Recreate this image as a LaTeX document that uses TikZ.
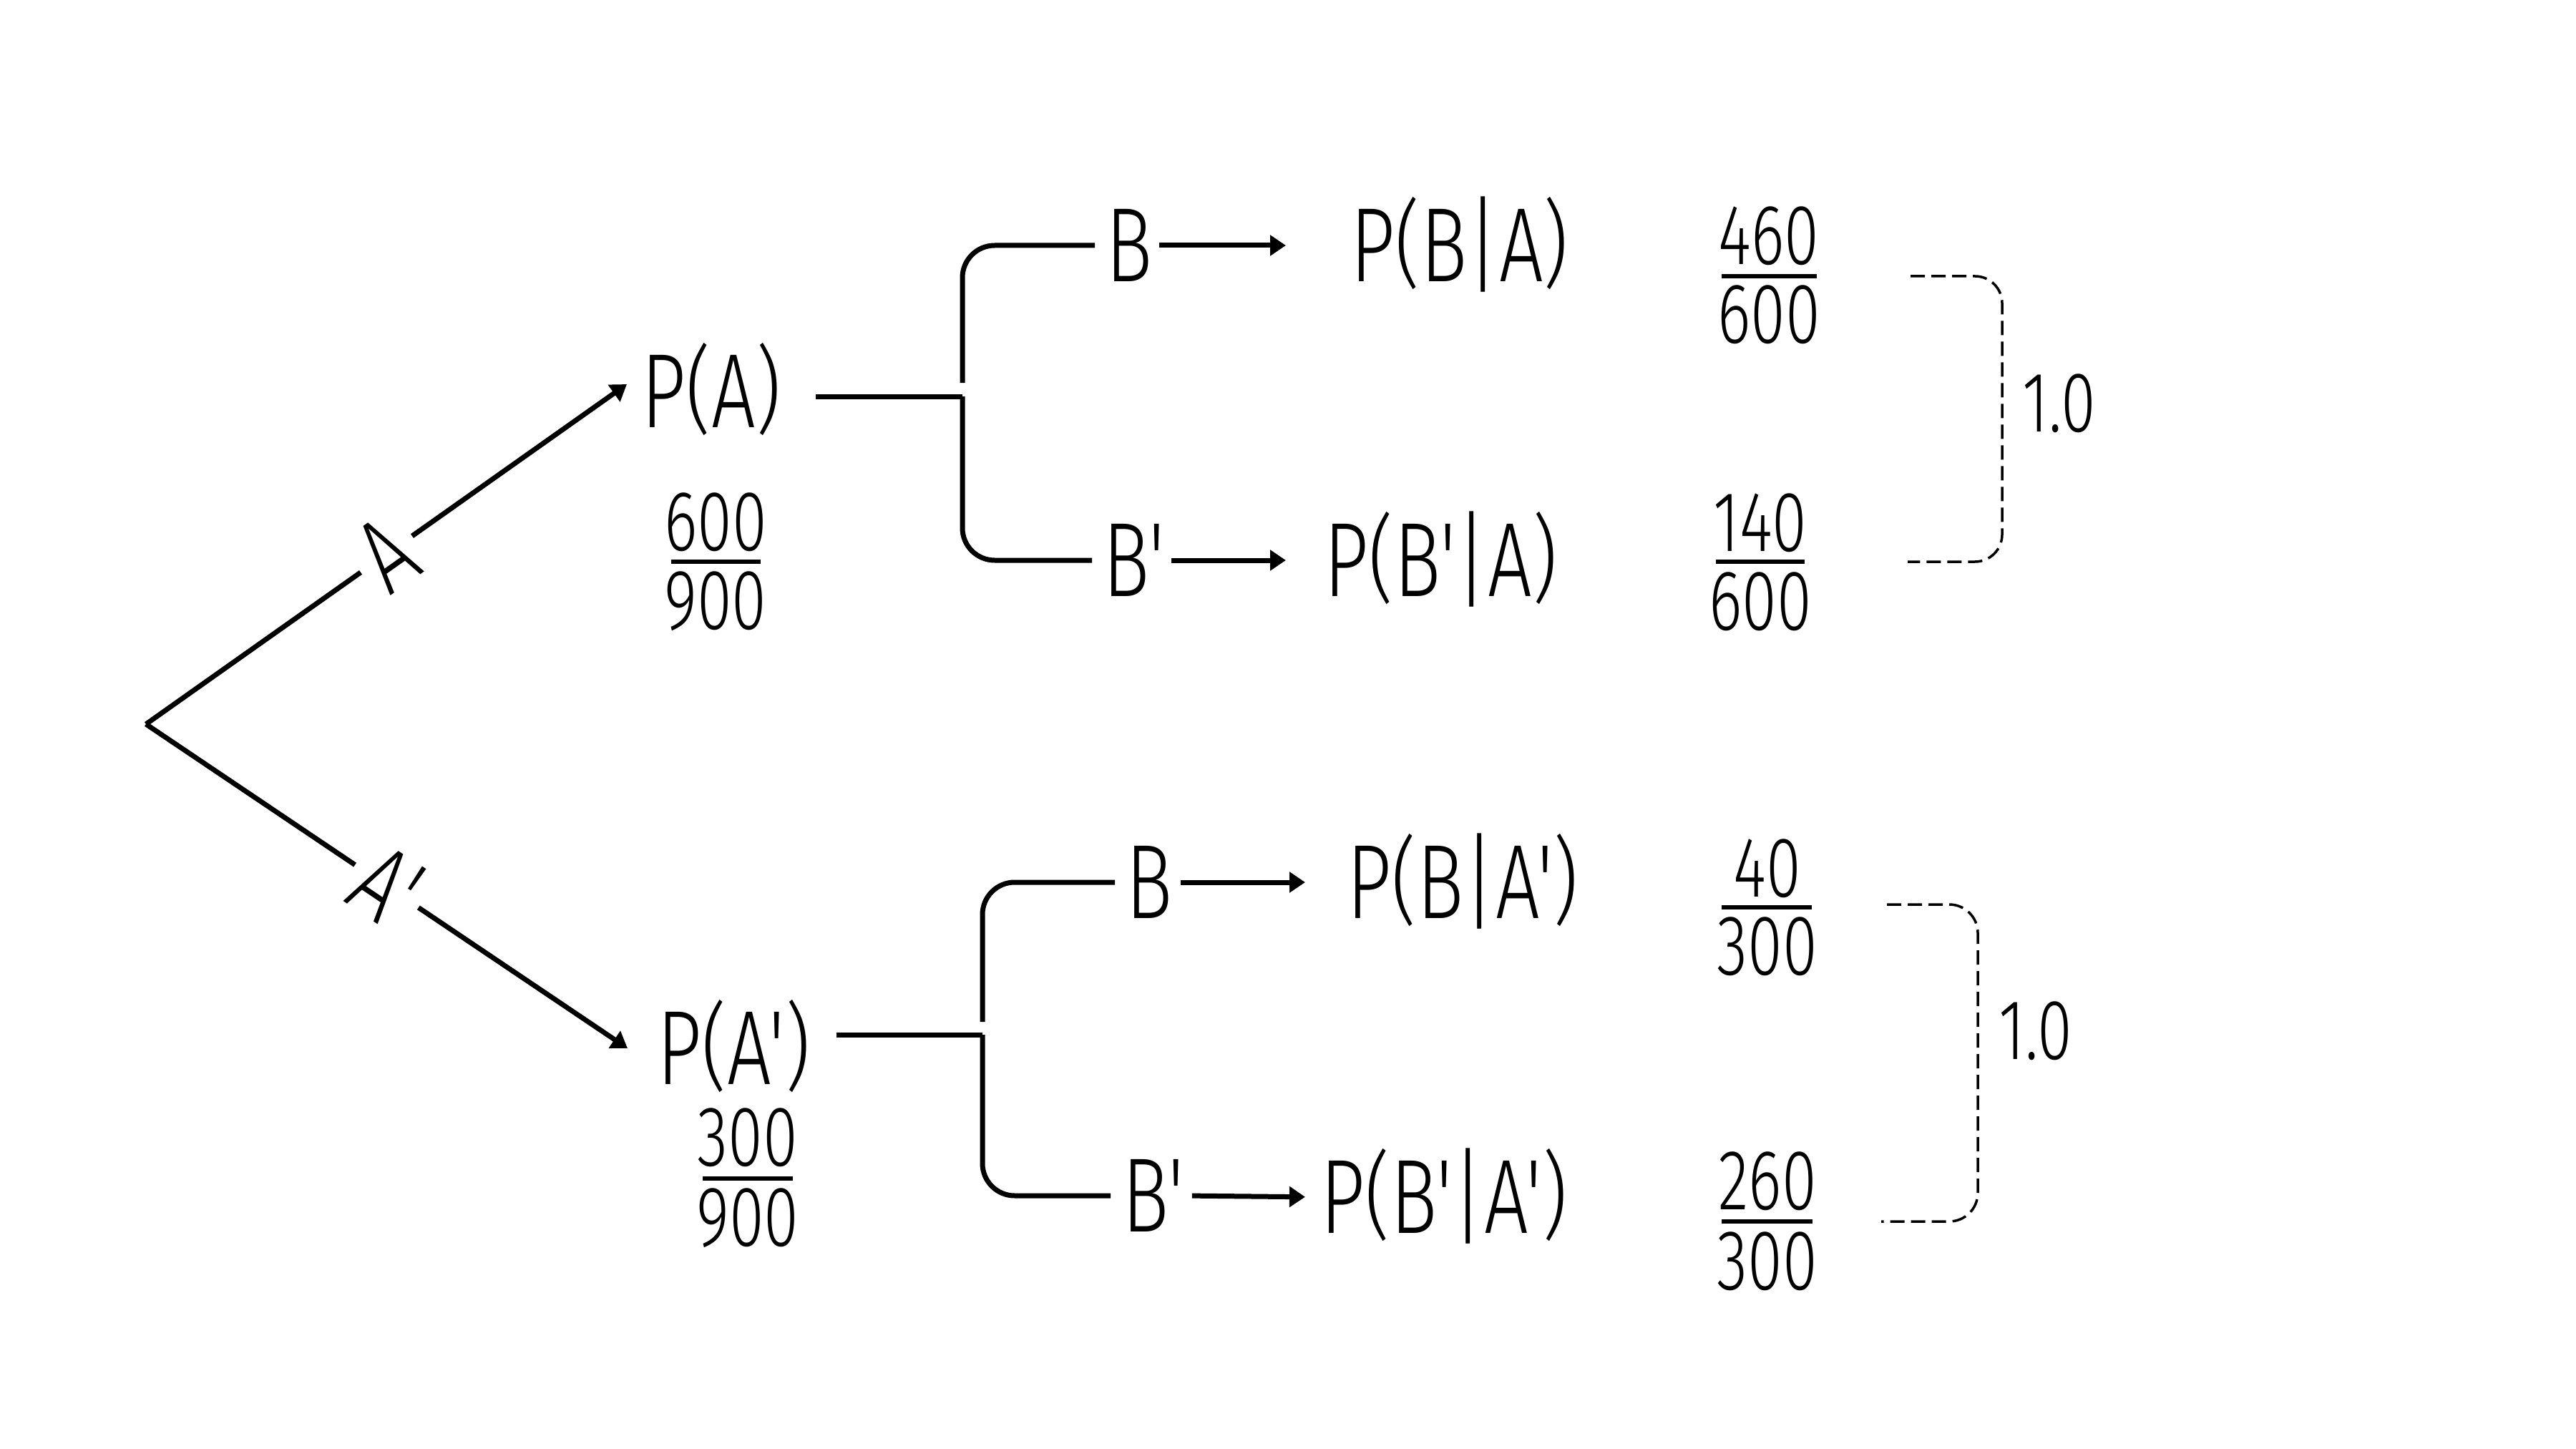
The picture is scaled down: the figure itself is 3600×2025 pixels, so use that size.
\documentclass[tikz,border=0pt]{standalone}
\usepackage{fontspec}
\newfontfamily\hand[FakeStretch=0.74]{Fira Sans Light}
\usetikzlibrary{arrows.meta,calc}
\newcommand\lpar{\raisebox{2pt}{\scalebox{1}[0.9]{(}}}
\newcommand\rpar{\raisebox{2pt}{\scalebox{1}[0.9]{)}}}
\begin{document}
\begin{tikzpicture}[x=0.1mm,y=-0.1mm,
  line/.style={line width=0.7mm},
  arr/.style={line width=0.7mm,-{Triangle[length=2.2mm,width=2.8mm]}},
  dashline/.style={line width=0.35mm,dash pattern=on 2mm off 0.9mm},
  fbar/.style={line width=0.55mm},
  big/.style={font=\hand\fontsize{42}{50}\selectfont,inner sep=0pt,text height=29pt,text depth=0pt},
  num/.style={font=\hand\fontsize{34}{40}\selectfont,inner sep=0pt,anchor=base},
  lbl/.style={big,fill=white,inner xsep=1.3mm,sloped}
]
\path[use as bounding box,fill=white] (0,0) rectangle (3600,2025);

% root and first level
\coordinate (root) at (204,1012);
\node[big,anchor=west] (PA)  at (896,547)  {P\lpar A\rpar};
\node[big,anchor=west] (PAp) at (918,1465) {P\lpar A'\rpar};
\draw[arr] (root) -- node[lbl] (lA) {A} ($(PA.west)+(-20,-10)$);
\draw[arr] (root) -- node[lbl] (lAp) {A'} ($(PAp.west)+(-41,0)$);

% fractions first level
\node[num] (n1) at (1000,769) {600};
\node[num] (d1) at (1000,879) {900};
\draw[fbar] (938,785) -- (1063,785);
\node[num] (n2) at (1045,1629) {300};
\node[num] (d2) at (1045,1741) {900};
\draw[fbar] (982,1647) -- (1108,1647);

% upper branch
\node[big,anchor=west] (Bu)   at (1545,343) {B};
\node[big,anchor=west] (PBA)  at (1887,343) {P\lpar B|A\rpar};
\node[big,anchor=west] (Bpu)  at (1541,783) {B'};
\node[big,anchor=west] (PBpA) at (1850,783) {P\lpar B'|A\rpar};
\coordinate (jA) at (1345,554);
\draw[line,shorten <=4.8mm] (PA.east |- jA) -- (jA);
\draw[line,rounded corners=4.5mm,shorten >=1.5mm] ($(jA)+(0,-19)$) |- (Bu.west);
\draw[line,rounded corners=4.5mm,shorten >=1.5mm] (jA) |- (Bpu.west);
\draw[arr,shorten <=0.8mm,shorten >=9mm] (Bu.east) -- (PBA.west);
\draw[arr,shorten <=0.8mm,shorten >=5.3mm] (Bpu.east) -- (PBpA.west);

% lower branch
\node[big,anchor=west] (Bl)    at (1573,1233) {B};
\node[big,anchor=west] (PBAp)  at (1882,1233) {P\lpar B|A'\rpar};
\node[big,anchor=west] (Bpl)   at (1568,1671) {B'};
\node[big,anchor=west] (PBpAp) at (1845,1673) {P\lpar B'|A'\rpar};
\coordinate (jB) at (1373,1446);
\draw[line,shorten <=3.6mm] (PAp.east |- jB) -- (jB);
\draw[line,rounded corners=4.5mm,shorten >=1.5mm] ($(jB)+(0,-18)$) |- (Bl.west);
\draw[line,rounded corners=4.5mm,shorten >=1.6mm] (jB) |- (Bpl.west);
\draw[arr,shorten <=1mm,shorten >=5.8mm] (Bl.east) -- (PBAp.west);
\draw[arr,shorten <=1mm,shorten >=2.1mm] (Bpl.east) -- (PBpAp.west);

% right fractions
\node[num] (n3) at (2472,370) {460};
\node[num] (d3) at (2472,480) {600};
\draw[fbar] (2406,386) -- (2539,386);
\node[num] (n4) at (2460,770) {140};
\node[num] (d4) at (2460,880) {600};
\draw[fbar] (2398,785) -- (2522,785);
\node[num] (n5) at (2470,1253) {40};
\node[num] (d5) at (2470,1362) {300};
\draw[fbar] (2406,1268) -- (2532,1268);
\node[num] (n6) at (2470,1690) {260};
\node[num] (d6) at (2470,1802) {300};
\draw[fbar] (2406,1707) -- (2533,1707);

% dashed brackets and sums
\draw[dashline,rounded corners=3.8mm] (2670,386) -| (2798,585) |- (2666,785);
\node[num] (s1) at (2878,603) {1.0};
\draw[dashline,rounded corners=4mm] (2637,1264) -| (2764,1480) |- (2629,1707);
\node[num] (s2) at (2845,1480) {1.0};
\end{tikzpicture}
\end{document}
